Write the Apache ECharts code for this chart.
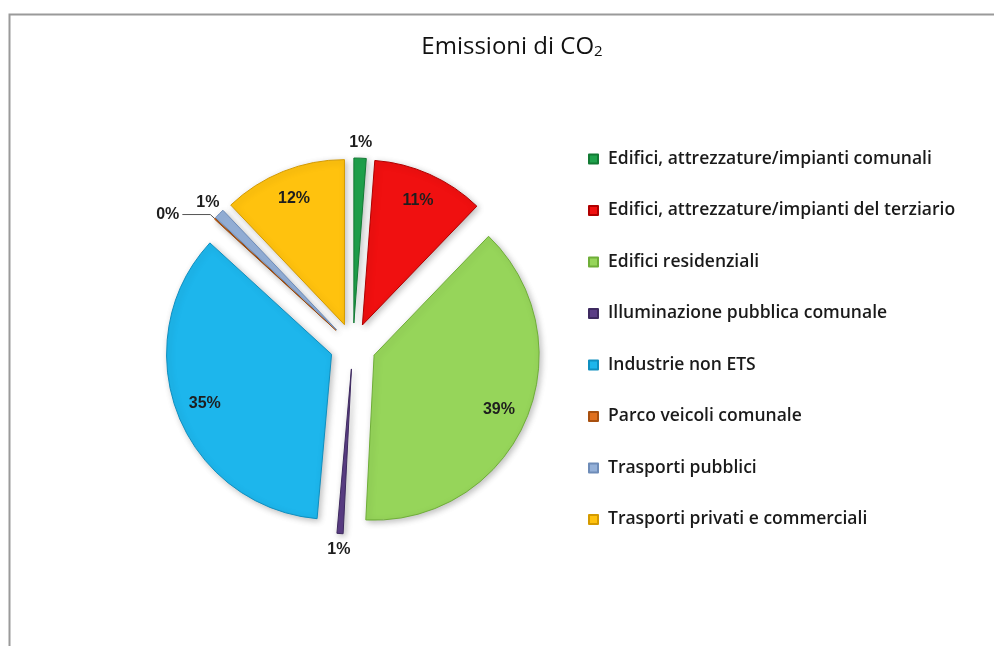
<!DOCTYPE html>
<html>
<head>
<meta charset="utf-8">
<script src="https://cdn.jsdelivr.net/npm/echarts@6/dist/echarts.min.js"></script>
<style>
html,body{margin:0;padding:0;background:#fff;}
#chart{width:994px;height:646px;}
</style>
</head>
<body>
<div id="chart"></div>
<script>
var categories = [
  'Edifici, attrezzature/impianti comunali',
  'Edifici, attrezzature/impianti del terziario',
  'Edifici residenziali',
  'Illuminazione pubblica comunale',
  'Industrie non ETS',
  'Parco veicoli comunale',
  'Trasporti pubblici',
  'Trasporti privati e commerciali'
];
var values = [1.2, 11.0, 38.6, 0.6, 35.4, 0.1, 1.0, 12.1];
var labels = ['1%', '11%', '39%', '1%', '35%', '0%', '1%', '12%'];
var colors = ['#1FA24C', '#F01010', '#96D55A', '#5B3E86', '#1DB6EC', '#E0701E', '#94B0D8', '#FFC20E'];
var borders = ['#137A34', '#B00000', '#6FAE38', '#3E2A60', '#0F8FC0', '#A8500F', '#6E8CB8', '#D49A00'];
// label groups: 'in' = inside big slices, 'out' = just outside small slices, 'line' = with leader line
var labelKind = ['out', 'in', 'in', 'out', 'in', 'line', 'out', 'in'];

var CX = 353, CY = 346, R = 165, OFF = 23;

function baseData() {
  return categories.map(function (c, i) {
    return { name: c, value: values[i], selected: true };
  });
}

var mainData = baseData().map(function (d, i) {
  d.itemStyle = { color: colors[i], borderColor: borders[i], borderWidth: 1 };
  if (labelKind[i] === 'line') {
    d.label = { show: true, position: 'outside', formatter: labels[i], distanceToLabelLine: 3 };
    d.labelLine = { show: true, length: 6, length2: 28, lineStyle: { color: '#555', width: 1 } };
  } else {
    d.label = { show: false };
    d.labelLine = { show: false };
  }
  return d;
});

var innerLabelData = baseData().map(function (d, i) {
  d.itemStyle = { color: 'rgba(0,0,0,0)' };
  d.label = { show: labelKind[i] === 'in', formatter: labels[i] };
  return d;
});
var outerLabelData = baseData().map(function (d, i) {
  d.itemStyle = { color: 'rgba(0,0,0,0)' };
  d.label = { show: labelKind[i] === 'out', formatter: labels[i] };
  return d;
});

var labelText = { fontFamily: 'Liberation Sans', fontWeight: 'bold', fontSize: 16, color: '#1e1e1e' };

var option = {
  backgroundColor: '#ffffff',
  animation: false,
  title: {
    text: 'Emissioni di CO{sub|2}',
    left: 507, top: 30, textAlign: 'center',
    textStyle: {
      fontFamily: 'Open Sans', fontSize: 24, fontWeight: 'normal', color: '#111',
      rich: { sub: { fontFamily: 'Open Sans', fontSize: 15, color: '#111', padding: [9, 0, 0, 0] } }
    }
  },
  legend: {
    orient: 'vertical', left: 583, top: 145,
    icon: 'rect', itemWidth: 9, itemHeight: 9, itemGap: 33.5,
    selectedMode: false,
    data: categories,
    textStyle: { fontFamily: 'Open Sans', fontSize: 17.5, fontWeight: 600, color: '#1a1a1a', lineHeight: 16, padding: [0, 0, 0, 5] }
  },
  graphic: [{
    type: 'polyline', silent: true,
    shape: { points: [[9.5, 700], [9.5, 14.5], [1000, 14.5]] },
    style: { stroke: '#9a9a9a', lineWidth: 2, fill: null }
  }],
  series: [
    {
      type: 'pie', center: [CX, CY], radius: [0, R], startAngle: 90, clockwise: true,
      selectedMode: 'multiple', selectedOffset: OFF, avoidLabelOverlap: false,
      silent: true,
      itemStyle: { shadowBlur: 6, shadowColor: 'rgba(0,0,0,0.25)', shadowOffsetX: 2, shadowOffsetY: 2 },
      label: Object.assign({}, labelText),
      data: mainData
    },
    {
      type: 'pie', center: [CX, CY], radius: [0, 2 * 133], startAngle: 90, clockwise: true,
      selectedMode: 'multiple', selectedOffset: OFF, avoidLabelOverlap: false, silent: true,
      label: Object.assign({ position: 'inside' }, labelText),
      labelLine: { show: false },
      data: innerLabelData
    },
    {
      type: 'pie', center: [CX, CY], radius: [0, 2 * 178], startAngle: 90, clockwise: true,
      selectedMode: 'multiple', selectedOffset: OFF, avoidLabelOverlap: false, silent: true,
      label: Object.assign({ position: 'inside' }, labelText),
      labelLine: { show: false },
      data: outerLabelData
    }
  ]
};
var chart = echarts.init(document.getElementById('chart'), null, { renderer: 'canvas' });
chart.setOption(option);
</script>
</body>
</html>
